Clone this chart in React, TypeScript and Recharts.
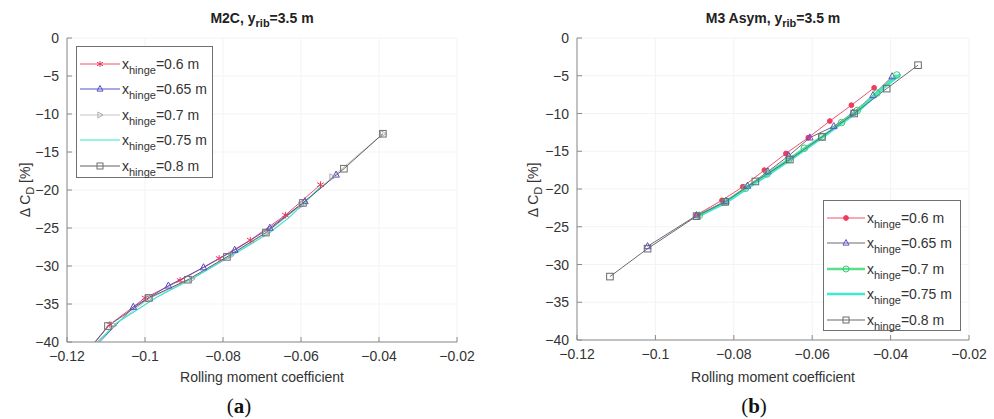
import React from "react";
import { LineChart, Line, XAxis, YAxis, CartesianGrid } from "recharts";

const X_TICKS = [-0.12, -0.1, -0.08, -0.06, -0.04, -0.02];
const Y_TICKS = [-40, -35, -30, -25, -20, -15, -10, -5, 0];
const HINGES = ["0.6", "0.65", "0.7", "0.75", "0.8"];

// (a) M2C — [rolling moment coefficient, delta CD %]
const M2C_06 = [[-0.116, -42], [-0.109, -37.7], [-0.1, -34.2], [-0.091, -31.9], [-0.081, -29.0], [-0.073, -26.6], [-0.064, -23.3], [-0.055, -19.3]];
const M2C_065 = [[-0.116, -42.3], [-0.103, -35.4], [-0.094, -32.6], [-0.085, -30.2], [-0.077, -27.9], [-0.068, -25.0], [-0.059, -21.5], [-0.051, -18.0]];
const M2C_07 = [[-0.115, -41.8], [-0.108, -37.8], [-0.099, -34.3], [-0.088, -31.7], [-0.078, -28.6], [-0.069, -25.7], [-0.06, -22.0], [-0.052, -18.3], [-0.039, -12.6]];
const M2C_075 = [[-0.116, -41.9], [-0.107, -37.4], [-0.097, -34.1], [-0.087, -31.4], [-0.077, -28.4], [-0.068, -25.6], [-0.063, -23.6], [-0.055, -19.6]];
const M2C_08 = [[-0.116, -42], [-0.1095, -37.9], [-0.099, -34.2], [-0.089, -31.8], [-0.079, -28.8], [-0.069, -25.6], [-0.0595, -21.7], [-0.049, -17.2], [-0.039, -12.6]];

// (b) M3 Asym
const M3_06 = [[-0.0894, -23.4], [-0.083, -21.5], [-0.0777, -19.7], [-0.0722, -17.5], [-0.0667, -15.3], [-0.061, -13.2], [-0.0555, -11.0], [-0.05, -8.9], [-0.0442, -6.6]];
const M3_065 = [[-0.102, -27.6], [-0.0895, -23.5], [-0.082, -21.6], [-0.0765, -19.6], [-0.0713, -17.7], [-0.066, -15.6], [-0.0606, -13.2], [-0.0545, -11.7], [-0.0496, -9.9], [-0.0445, -7.6], [-0.0396, -5.1]];
const M3_07 = [[-0.0888, -23.5], [-0.0822, -21.7], [-0.077, -19.9], [-0.0715, -18.0], [-0.066, -16.1], [-0.062, -14.6], [-0.0575, -13.1], [-0.0525, -11.2], [-0.0485, -9.6], [-0.0435, -7.3], [-0.0384, -4.9]];
const M3_075 = [[-0.089, -23.6], [-0.082, -21.8], [-0.0768, -20.0], [-0.0712, -18.1], [-0.0658, -16.2], [-0.0575, -13.2], [-0.0485, -9.8], [-0.0415, -6.5], [-0.0375, -4.8]];
const M3_08 = [[-0.1116, -31.6], [-0.102, -27.9], [-0.0895, -23.6], [-0.0822, -21.7], [-0.0745, -19.0], [-0.0657, -16.1], [-0.0575, -13.1], [-0.0493, -10.0], [-0.041, -6.7], [-0.033, -3.6]];

const AXIS = "#8a8a8a";
const TXT = "#333";
const FONT = "'Liberation Sans', Arial, sans-serif";
const TM = 8;

const toPts = (arr: number[][]) => arr.map(([x, y]) => ({ x, y }));
const fmt = (v: number) => (v === 0 ? "0" : "\u2212" + String(Math.abs(v)));

type Mk = "star" | "tri" | "triR" | "sq" | "circ" | "dot" | "none";

function Marker({ kind, cx, cy, color, s = 3.3 }: { kind: Mk; cx: number; cy: number; color: string; s?: number }) {
  if (kind === "none") return null;
  if (kind === "star")
    return (
      <g stroke={color} strokeWidth={1}>
        <line x1={cx} x2={cx} y1={cy - s} y2={cy + s} />
        <line x1={cx - s} x2={cx + s} y1={cy - s * 0.6} y2={cy + s * 0.6} />
        <line x1={cx - s} x2={cx + s} y1={cy + s * 0.6} y2={cy - s * 0.6} />
      </g>
    );
  if (kind === "dot") return <circle cx={cx} cy={cy} r={2.4} fill={color} stroke={color} />;
  if (kind === "circ") return <circle cx={cx} cy={cy} r={s} fill="none" stroke={color} />;
  if (kind === "sq") return <rect x={cx - s} y={cy - s} width={2 * s} height={2 * s} fill="none" stroke={color} />;
  if (kind === "tri")
    return <polygon points={`${cx},${cy - s - 0.5} ${cx - s},${cy + s * 0.7} ${cx + s},${cy + s * 0.7}`} fill="none" stroke={color} />;
  return <polygon points={`${cx + s},${cy} ${cx - s * 0.7},${cy - s} ${cx - s * 0.7},${cy + s}`} fill="none" stroke={color} />;
}

type Series = { data: number[][]; color: string; width: number; marker: Mk; mColor: string };

const LEFT: Series[] = [
  { data: M2C_06, color: "#f0506e", width: 1, marker: "star", mColor: "#e8385a" },
  { data: M2C_065, color: "#5050c8", width: 1, marker: "tri", mColor: "#5050c8" },
  { data: M2C_07, color: "#c4c4c4", width: 1, marker: "triR", mColor: "#aaaaaa" },
  { data: M2C_075, color: "#3ee0d0", width: 1.2, marker: "none", mColor: "#3ee0d0" },
  { data: M2C_08, color: "#606060", width: 1, marker: "sq", mColor: "#707070" },
];

const RIGHT: Series[] = [
  { data: M3_06, color: "#f0506e", width: 1, marker: "dot", mColor: "#f03a5e" },
  { data: M3_065, color: "#6a6a80", width: 1, marker: "tri", mColor: "#5a50d0" },
  { data: M3_07, color: "#58e08a", width: 2.6, marker: "circ", mColor: "#3cc870" },
  { data: M3_075, color: "#3ee8d4", width: 2.6, marker: "none", mColor: "#3ee8d4" },
  { data: M3_08, color: "#6a6a6a", width: 1, marker: "sq", mColor: "#6a6a6a" },
];

const BottomTick = (p: any) => (
  <g>
    <line x1={p.x} x2={p.x} y1={p.y - TM} y2={p.y - TM - 5} stroke={AXIS} />
    <text x={p.x} y={p.y} dy="0.75em" textAnchor="middle" fill={TXT} fontSize={14} fontFamily={FONT}>
      {fmt(p.payload.value)}
    </text>
  </g>
);
const LeftTick = (p: any) => (
  <g>
    <line x1={p.x + TM} x2={p.x + TM + 5} y1={p.y} y2={p.y} stroke={AXIS} />
    <text x={p.x} y={p.y} dy="0.36em" textAnchor="end" fill={TXT} fontSize={14} fontFamily={FONT}>
      {fmt(p.payload.value)}
    </text>
  </g>
);
const TopTick = (p: any) => <line x1={p.x} x2={p.x} y1={p.y} y2={p.y + 5} stroke={AXIS} />;
const RightTick = (p: any) => <line x1={p.x - 5} x2={p.x} y1={p.y} y2={p.y} stroke={AXIS} />;

function Panel({ series, margin }: { series: Series[]; margin: any }) {
  return (
    <LineChart width={497} height={419} margin={margin}>
      <CartesianGrid stroke="#f3f3f3" vertical horizontal />
      <XAxis type="number" dataKey="x" domain={[-0.12, -0.02]} ticks={X_TICKS} allowDataOverflow
        height={30} tickSize={0} tickMargin={TM} tickLine={false} stroke={AXIS} tick={BottomTick} />
      <XAxis xAxisId="top" orientation="top" type="number" domain={[-0.12, -0.02]} ticks={X_TICKS}
        height={0} tickSize={0} tickMargin={0} tickLine={false} stroke={AXIS} tick={TopTick} />
      <YAxis type="number" domain={[-40, 0]} ticks={Y_TICKS} allowDataOverflow width={50}
        tickSize={0} tickMargin={TM} tickLine={false} stroke={AXIS} tick={LeftTick} />
      <YAxis yAxisId="right" orientation="right" type="number" domain={[-40, 0]} ticks={Y_TICKS}
        width={0} tickSize={0} tickMargin={0} tickLine={false} stroke={AXIS} tick={RightTick} />
      {series.map((s, i) => (
        <Line key={i} data={toPts(s.data)} dataKey="y" stroke={s.color} strokeWidth={s.width}
          isAnimationActive={false} type="linear"
          dot={(d: any) => (
            <g key={`d${i}-${d.index}`}>
              <Marker kind={s.marker} cx={d.cx} cy={d.cy} color={s.mColor} />
            </g>
          )}
        />
      ))}
    </LineChart>
  );
}

function LegendBox({ series, left, top, width, height, rowH, lineW }: any) {
  return (
    <div style={{ position: "absolute", left, top, width, height, background: "#fff", border: "1px solid #707070", boxSizing: "border-box" }}>
      {series.map((s: Series, i: number) => (
        <div key={i} style={{ position: "absolute", left: 2, top: 4 + i * rowH, height: rowH, display: "flex", alignItems: "center", whiteSpace: "nowrap" }}>
          <svg width={lineW} height={12} style={{ marginRight: 1 }}>
            <line x1={1} x2={lineW - 1} y1={6} y2={6} stroke={s.color} strokeWidth={s.width} />
            <Marker kind={s.marker} cx={lineW / 2} cy={6} color={s.mColor} s={3} />
          </svg>
          <span style={{ fontSize: 14, color: TXT, fontFamily: FONT }}>
            x<sub style={{ fontSize: 11, verticalAlign: "-5px", lineHeight: 0 }}>hinge</sub>={HINGES[i]} m
          </span>
        </div>
      ))}
    </div>
  );
}

const abs = (l: number, t: number, extra: any = {}) => ({ position: "absolute" as const, left: l, top: t, fontFamily: FONT, color: TXT, whiteSpace: "nowrap" as const, ...extra });

function Title({ cx, children }: any) {
  return (
    <div style={abs(cx, 10, { transform: "translateX(-50%)", fontWeight: "bold", fontSize: 14, color: "#222" })}>{children}</div>
  );
}

function YLabel({ cx }: { cx: number }) {
  return (
    <div style={abs(cx, 190, { transform: "translate(-50%, -50%) rotate(-90deg)", fontSize: 14 })}>
      {"\u0394 C"}<sub style={{ fontSize: 11, verticalAlign: "-4px", lineHeight: 0 }}>D</sub> [%]
    </div>
  );
}

export default function App() {
  return (
    <div style={{ position: "absolute", left: 0, top: 0, width: 994, height: 419, background: "#fff", overflow: "hidden" }}>
      <div style={{ position: "absolute", left: 0, top: 0 }}>
        <Panel series={LEFT} margin={{ top: 38, right: 40, bottom: 47, left: 17 }} />
      </div>
      <div style={{ position: "absolute", left: 497, top: 0 }}>
        <Panel series={RIGHT} margin={{ top: 38, right: 25, bottom: 49, left: 30 }} />
      </div>

      <Title cx={262}>M2C, y<sub style={{ fontSize: 11, verticalAlign: "-4px", lineHeight: 0 }}>rib</sub>=3.5 m</Title>
      <Title cx={773}>M3 Asym, y<sub style={{ fontSize: 11, verticalAlign: "-4px", lineHeight: 0 }}>rib</sub>=3.5 m</Title>

      <YLabel cx={25} />
      <YLabel cx={533} />

      <div style={abs(262, 369, { transform: "translateX(-50%)", fontSize: 14 })}>Rolling moment coefficient</div>
      <div style={abs(773, 369, { transform: "translateX(-50%)", fontSize: 14 })}>Rolling moment coefficient</div>

      <div style={abs(239, 394, { transform: "translateX(-50%)", fontSize: 21, fontFamily: "'Liberation Serif', 'Times New Roman', serif", color: "#111" })}>
        (<b>a</b>)
      </div>
      <div style={abs(754, 394, { transform: "translateX(-50%)", fontSize: 21, fontFamily: "'Liberation Serif', 'Times New Roman', serif", color: "#111" })}>
        (<b>b</b>)
      </div>

      <LegendBox series={LEFT} left={76} top={46} width={137} height={132} rowH={25.5} lineW={42} />
      <LegendBox series={RIGHT} left={823} top={200} width={138} height={131} rowH={25.5} lineW={40} />
    </div>
  );
}
